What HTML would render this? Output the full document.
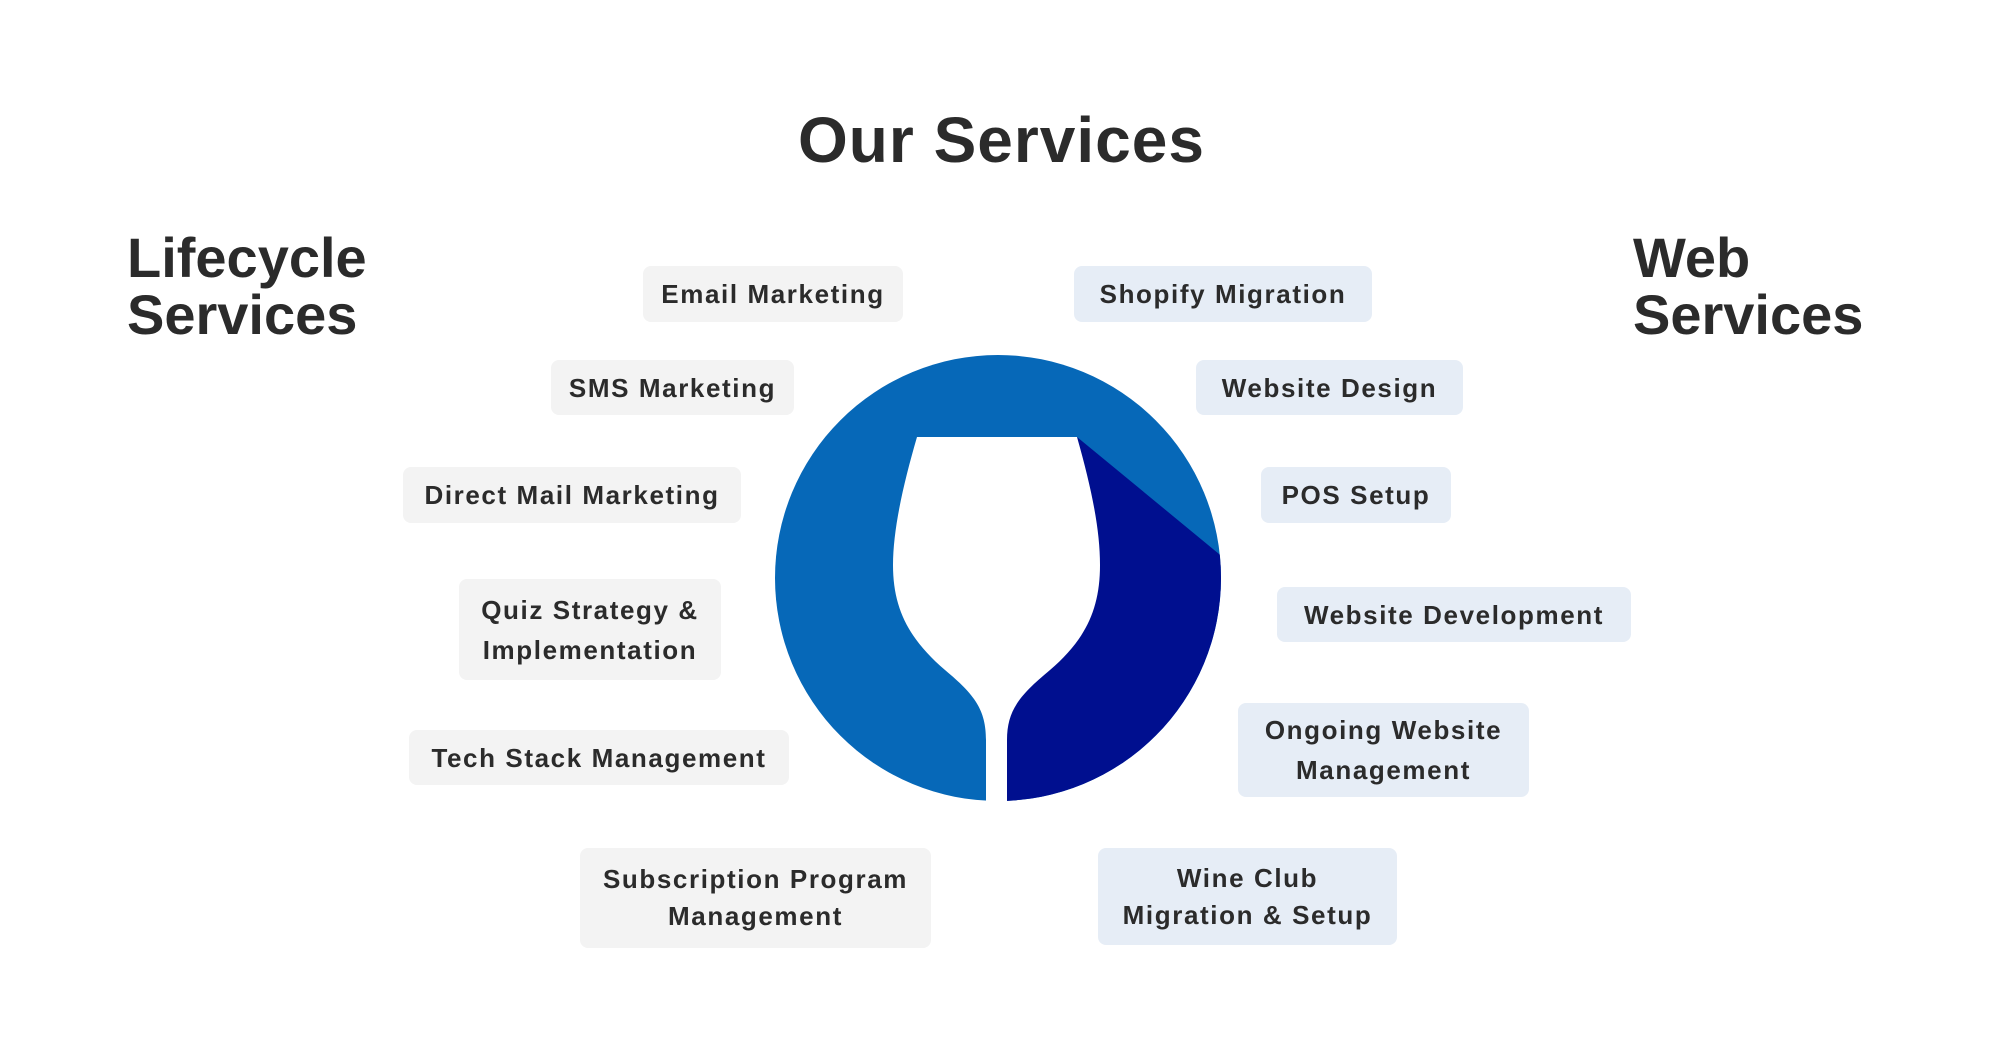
<!DOCTYPE html>
<html><head><meta charset="utf-8">
<style>
html,body{margin:0;padding:0;background:#fff;}
body{width:2000px;height:1055px;position:relative;overflow:hidden;font-family:"Liberation Sans",sans-serif;color:#2b2b2b;}
.t{position:absolute;font-weight:bold;white-space:nowrap;}
.b{position:absolute;border-radius:8px;display:flex;align-items:center;justify-content:center;text-align:center;font-weight:bold;font-size:26px;letter-spacing:1.6px;line-height:40px;color:#2b2b2b;}
.g{background:#f3f3f3;}
.w{background:#e6edf6;}
</style></head><body>
<div class="t" style="left:798px;top:100px;font-size:64px;line-height:80px;letter-spacing:1px;">Our Services</div>
<div class="t" style="left:127px;top:229px;font-size:56px;line-height:57px;">Lifecycle<br>Services</div>
<div class="t" style="left:1633px;top:229px;font-size:56px;line-height:57px;">Web<br>Services</div>

<svg style="position:absolute;left:0;top:0" width="2000" height="1055">
<defs><clipPath id="c"><circle cx="998" cy="578" r="223"/></clipPath></defs>
<circle cx="998" cy="578" r="223" fill="#0668b8"/>
<polygon clip-path="url(#c)" fill="#000f8f" points="1077,437 1230,563 1240,563 1240,820 1007,820 1007,437"/>
<path fill="#fff" d="M917,437 L1077,437 C1092,490 1100,530 1100,565 C1100,610 1085,640 1050,670 C1020,695 1007,710 1007,740 L1007,810 L986,810 L986,740 C986,710 975,695 945,670 C910,640 893,610 893,565 C893,530 903,485 917,437 Z"/>
</svg>

<div class="b g" style="left:643px;top:266px;width:260px;height:56px;">Email Marketing</div>
<div class="b g" style="left:551px;top:360px;width:243px;height:55px;">SMS Marketing</div>
<div class="b g" style="left:403px;top:467px;width:338px;height:56px;">Direct Mail Marketing</div>
<div class="b g" style="left:459px;top:579px;width:262px;height:101px;">Quiz Strategy &amp;<br>Implementation</div>
<div class="b g" style="left:409px;top:730px;width:380px;height:55px;">Tech Stack Management</div>
<div class="b g" style="left:580px;top:848px;width:351px;height:100px;line-height:37px;">Subscription Program<br>Management</div>

<div class="b w" style="left:1074px;top:266px;width:298px;height:56px;">Shopify Migration</div>
<div class="b w" style="left:1196px;top:360px;width:267px;height:55px;">Website Design</div>
<div class="b w" style="left:1261px;top:467px;width:190px;height:56px;">POS Setup</div>
<div class="b w" style="left:1277px;top:587px;width:354px;height:55px;">Website Development</div>
<div class="b w" style="left:1238px;top:703px;width:291px;height:94px;">Ongoing Website<br>Management</div>
<div class="b w" style="left:1098px;top:848px;width:299px;height:97px;line-height:37px;">Wine Club<br>Migration &amp; Setup</div>
</body></html>
